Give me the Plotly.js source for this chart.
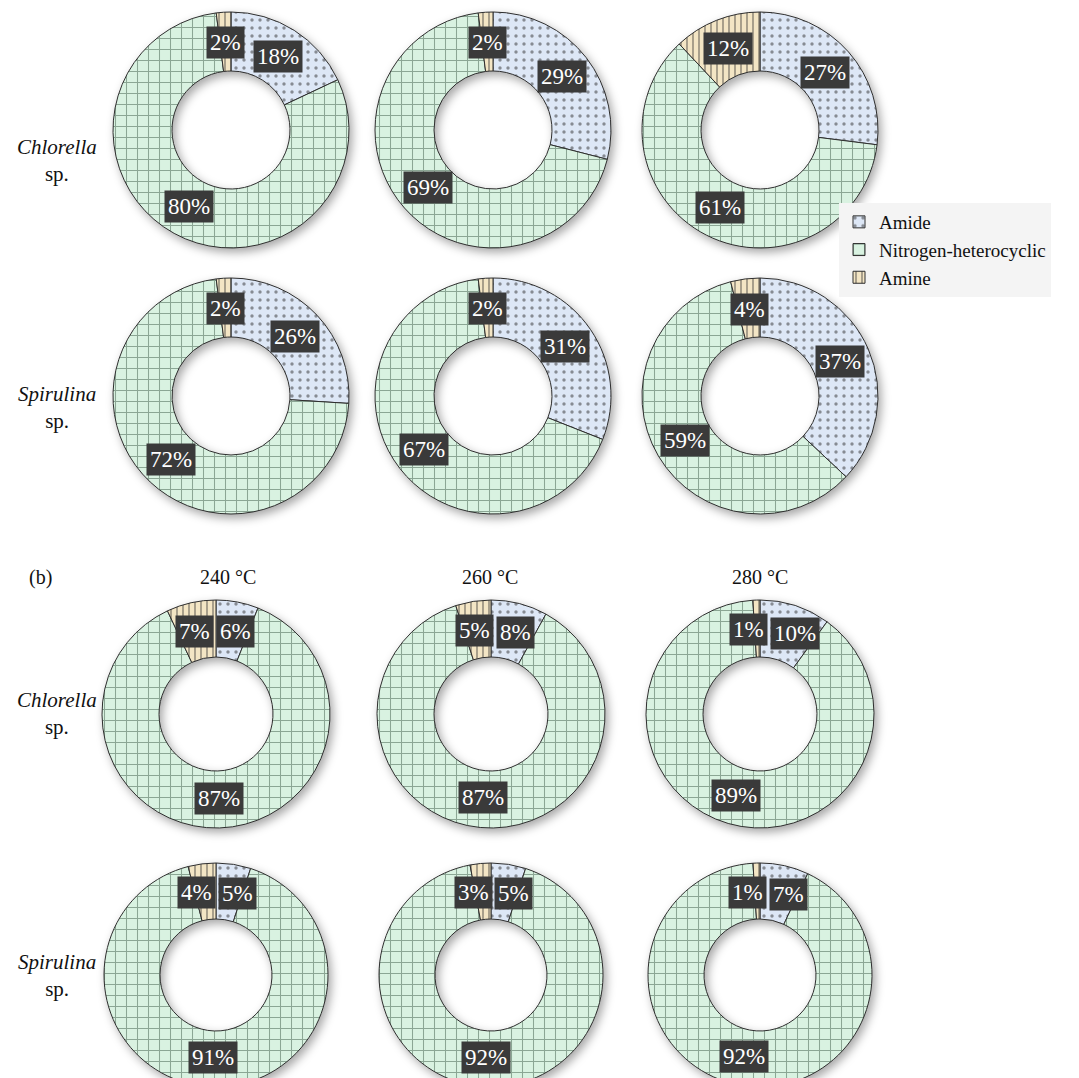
<!DOCTYPE html>
<html>
<head>
<meta charset="utf-8">
<script src="https://cdn.plot.ly/plotly-3.0.1.min.js"></script>
<style>
html, body { margin: 0; padding: 0; background: #fff; overflow: hidden; }
#chart { width: 1079px; height: 1100px; }
.pielayer .trace { filter: drop-shadow(3px 4px 5px rgba(0,0,0,0.35)); }
</style>
</head>
<body>
<div id="chart"></div>
<script>
var W = 1079, H = 1100;

var labels = ['Amide', 'Nitrogen-heterocyclic', 'Amine'];
var temps = ['240 °C', '260 °C', '280 °C'];

// panel (a), one value per temperature column
var chlorellaA_amide = [18, 29, 27];
var chlorellaA_nhet  = [80, 69, 61];
var chlorellaA_amine = [2, 2, 12];
var spirulinaA_amide = [26, 31, 37];
var spirulinaA_nhet  = [72, 67, 59];
var spirulinaA_amine = [2, 2, 4];

// panel (b)
var chlorellaB_amide = [6, 8, 10];
var chlorellaB_nhet  = [87, 87, 89];
var chlorellaB_amine = [7, 5, 1];
var spirulinaB_amide = [5, 5, 7];
var spirulinaB_nhet  = [91, 92, 92];
var spirulinaB_amine = [4, 3, 1];

var fillColors = ['#dde7f6', '#d9f2e1', '#f3e5c4'];
var serif = '"Liberation Serif", "Times New Roman", serif';

var traces = [];
var annotations = [];

function addPie(vals, cx, cy, R, legendId, showLegend){
	traces.push({
		type: 'pie',
		labels: labels,
		values: vals,
		hole: 0.5,
		sort: false,
		direction: 'clockwise',
		rotation: 0,
		textinfo: 'none',
		textposition: 'none',
		hoverinfo: 'label+percent',
		legend: legendId,
		showlegend: showLegend,
		domain: {
			x: [(cx - R) / W, (cx + R) / W],
			y: [1 - (cy + R) / H, 1 - (cy - R) / H]
		},
		marker: {
			colors: fillColors,
			line: {color: '#2e2e2e', width: 1},
			pattern: {
				shape: ['.', '+', '|'],
				fillmode: 'overlay',
				fgcolor: ['#2f2f2f', '#3e5a47', '#2f2f2f'],
				size: [8, 11, 6],
				solidity: [0.14, 0.18, 0.26]
			}
		}
	});

	// dark value boxes in the middle of the ring
	var total = vals.reduce(function(a, b){ return a + b; }, 0);
	var start = 0;
	var boxes = [];
	for(var i = 0; i < vals.length; i++){
		var mid = (start + vals[i] / 2) / total * 2 * Math.PI;
		start += vals[i];
		var txt = vals[i] + '%';
		boxes.push({
			txt: txt,
			px: cx + 0.74 * R * Math.sin(mid),
			py: cy - 0.74 * R * Math.cos(mid),
			w: (txt.length - 1) * 11.5 + 19.2 + 8,
			shift: 0
		});
	}
	// push apart boxes that would overlap
	for(var a = 0; a < boxes.length; a++){
		for(var b = a + 1; b < boxes.length; b++){
			var A = boxes[a], B = boxes[b];
			var need = (A.w + B.w) / 2 + 2;
			var dx = Math.abs(A.px - B.px);
			if(dx < need && Math.abs(A.py - B.py) < 28){
				var half = (need - dx) / 2;
				if(A.px < B.px){ A.shift -= half; B.shift += half; }
				else { A.shift += half; B.shift -= half; }
			}
		}
	}
	boxes.forEach(function(bx){
		annotations.push({
			xref: 'paper', yref: 'paper',
			x: (bx.px + bx.shift) / W, y: 1 - bx.py / H,
			xanchor: 'center', yanchor: 'middle',
			text: bx.txt,
			showarrow: false,
			bgcolor: '#3a3a3a',
			borderpad: 3,
			font: {family: serif, size: 23, color: '#ffffff'}
		});
	});
}

var colsA = [231, 493, 760];
var colsB = [216, 491, 760];

for(var c = 0; c < 3; c++){
	addPie([chlorellaA_amide[c], chlorellaA_nhet[c], chlorellaA_amine[c]], colsA[c], 130, 118, 'legend', c == 0);
	addPie([spirulinaA_amide[c], spirulinaA_nhet[c], spirulinaA_amine[c]], colsA[c], 396, 118, 'legend', false);
	addPie([chlorellaB_amide[c], chlorellaB_nhet[c], chlorellaB_amine[c]], colsB[c], 714, 114, 'legend2', c == 0);
	addPie([spirulinaB_amide[c], spirulinaB_nhet[c], spirulinaB_amine[c]], colsB[c], 975, 112, 'legend2', false);
}

function addText(txt, px, py, size){
	annotations.push({
		xref: 'paper', yref: 'paper',
		x: px / W, y: 1 - py / H,
		xanchor: 'center', yanchor: 'middle',
		text: txt, showarrow: false,
		font: {family: serif, size: size, color: '#111'}
	});
}

addText('(b)', 40, 577, 20);
var headX = [228, 490, 760];
for(var t = 0; t < temps.length; t++){
	addText(temps[t], headX[t], 577, 20);
}
addText('<i>Chlorella</i><br>sp.', 57, 160, 21);
addText('<i>Spirulina</i><br>sp.', 57, 408, 21);
addText('<i>Chlorella</i><br>sp.', 57, 713, 21);
addText('<i>Spirulina</i><br>sp.', 57, 975, 21);

var legendStyle = {
	xanchor: 'left', yanchor: 'top',
	bgcolor: '#f4f4f4',
	font: {family: serif, size: 19, color: '#111'},
	traceorder: 'normal'
};

var layout = {
	width: W,
	height: H,
	margin: {l: 0, r: 0, t: 0, b: 0},
	paper_bgcolor: '#ffffff',
	showlegend: true,
	legend: Object.assign({x: 839 / W, y: 1 - 203 / H}, legendStyle),
	legend2: Object.assign({x: 824 / W, y: 1 - 792 / H}, legendStyle),
	annotations: annotations
};

Plotly.newPlot('chart', traces, layout, {displayModeBar: false, staticPlot: true});
</script>
</body>
</html>
